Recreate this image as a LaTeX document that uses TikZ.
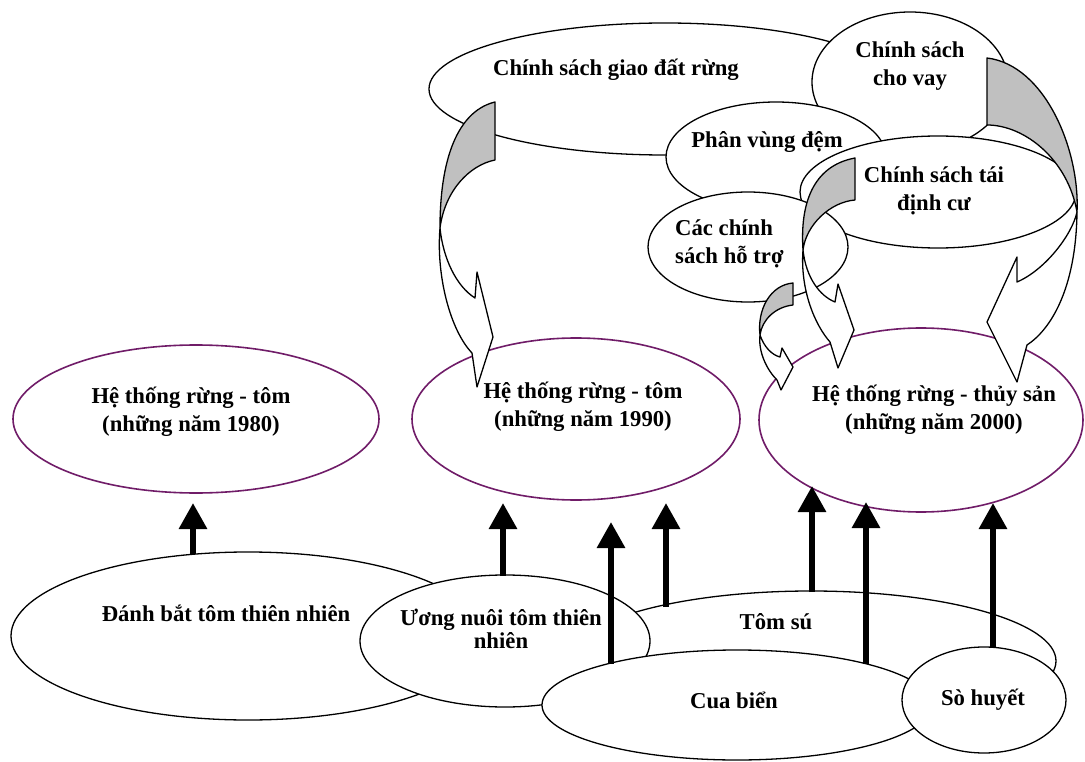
\documentclass[tikz,border=0pt]{standalone}
\usepackage{fontspec}
\setmainfont{Liberation Serif}
\usetikzlibrary{arrows.meta,shapes.geometric}
\definecolor{pur}{RGB}{112,28,104}
\definecolor{backgray}{RGB}{192,192,192}
\begin{document}
\begin{tikzpicture}[x=1pt,y=-1pt,
  blk/.style={ellipse, draw=black, line width=1.3pt, fill=white, inner sep=0pt, outer sep=0pt},
  pel/.style={ellipse, draw=pur, line width=1.6pt, fill=white, inner sep=0pt, outer sep=0pt},
  lbl/.style={font=\bfseries\fontsize{22.7}{28}\selectfont, align=center, inner sep=0pt},
  up/.style={line width=6pt, -{Triangle[width=27pt,length=26pt]}},
  back/.style={draw=black, line width=1.3pt, fill=backgray, line join=round},
  front/.style={draw=black, line width=1.3pt, fill=white, line join=round},
]
\useasboundingbox[fill=white] (0,0) rectangle (1085,762);

% policy ellipses
\node[blk, minimum width=472pt, minimum height=132pt] (giao) at (665,89) {};
\node[blk, minimum width=196pt, minimum height=140pt] (vay) at (910,82) {};
\node[blk, minimum width=220pt, minimum height=110pt] (dem) at (776,157) {};
\node[blk, minimum width=276pt, minimum height=112pt] (taidinh) at (938,192) {};
\node[blk, minimum width=200pt, minimum height=110pt] (hotro) at (748,247) {};

% system ellipses
\node[pel, minimum width=366pt, minimum height=148pt] (s1980) at (196,419) {};
\node[pel, minimum width=328pt, minimum height=162pt] (s1990) at (576,419) {};
\node[pel, minimum width=324pt, minimum height=184pt] (s2000) at (921,420) {};

% activity ellipses
\node[blk, minimum width=474pt, minimum height=168pt] (dbat) at (248,636) {};
\node[blk, minimum width=490pt, minimum height=140pt] (tomsu) at (811,661) {};
\node[blk, minimum width=290pt, minimum height=132pt] (uong) at (505,641) {};
\node[blk, minimum width=390pt, minimum height=110pt] (cua) at (737,705) {};
\node[blk, minimum width=164pt, minimum height=106pt] (so) at (984,700) {};

% straight arrows
\coordinate (a1s) at (193,554); \coordinate (a1e) at (193,503);
\coordinate (a2s) at (503,576); \coordinate (a2e) at (503,503);
\coordinate (a3s) at (611,664); \coordinate (a3e) at (611,522);
\coordinate (a4s) at (666,607); \coordinate (a4e) at (666,503);
\coordinate (a5s) at (812,592); \coordinate (a5e) at (812,486);
\coordinate (a6s) at (866,664); \coordinate (a6e) at (866,502);
\coordinate (a7s) at (993,648); \coordinate (a7e) at (993,503);
\foreach \i in {1,...,7} {\draw[up] (a\i s) -- (a\i e);}

% curved arrows (A: giao -> 1990)
\draw[back] (495,102) -- (495,160) .. controls (470,165) and (445,190) .. (440,228) .. controls (440,150) and (462,110) .. (495,102) -- cycle;
\draw[front] (440,228) .. controls (443,258) and (456,286) .. (475,298) -- (477,272) -- (493,337) -- (477,387) -- (472,353) .. controls (450,330) and (436,275) .. (440,228) -- cycle;
% B: vay -> 2000
\draw[back] (987,58) -- (987,125) .. controls (1025,125) and (1068,160) .. (1077,212) .. controls (1080,150) and (1045,65) .. (987,58) -- cycle;
\draw[front] (1077,212) .. controls (1072,235) and (1045,270) .. (1017,282) -- (1017,257) -- (987,322) -- (1017,382) -- (1027,345) .. controls (1050,330) and (1076,290) .. (1077,212) -- cycle;
% C: taidinh -> 2000
\draw[back] (855,158) -- (855,200) .. controls (830,202) and (806,225) .. (803,250) .. controls (800,205) and (812,166) .. (855,158) -- cycle;
\draw[front] (803,250) .. controls (806,278) and (820,296) .. (835,302) -- (838,284) -- (854,330) -- (838,368) -- (830,342) .. controls (815,325) and (800,290) .. (803,250) -- cycle;
% D: hotro -> 2000
\draw[back] (793,283) -- (793,305) .. controls (775,307) and (762,320) .. (760,335) .. controls (757,310) and (770,285) .. (793,283) -- cycle;
\draw[front] (760,335) .. controls (764,347) and (772,355) .. (780,357) -- (782,348) -- (793,367) -- (781,390) -- (777,380) .. controls (767,370) and (758,352) .. (760,335) -- cycle;

% labels
\node[lbl] (tgiao) at (616,70) {Chính sách giao đất rừng};
\node[lbl] (tvay) at (910,66) {Chính sách\\cho vay};
\node[lbl] (tdem) at (767,142) {Phân vùng đệm};
\node[lbl, align=left, anchor=west] (thotro) at (675,244) {Các chính\\sách hỗ trợ};
\node[lbl] (ttaidinh) at (934,191) {Chính sách tái\\định cư};
\node[lbl] (t1980) at (191,412) {Hệ thống rừng - tôm\\(những năm 1980)};
\node[lbl] (t1990) at (583,407) {Hệ thống rừng - tôm\\(những năm 1990)};
\node[lbl] (t2000) at (934,410) {Hệ thống rừng - thủy sản\\(những năm 2000)};
\node[lbl] (tdbat) at (226,613) {Đánh bắt tôm thiên nhiên};
\node[lbl, font=\bfseries\fontsize{22.7}{23}\selectfont] (tuong) at (501,629) {Ương nuôi tôm thiên\\nhiên};
\node[lbl] (ttomsu) at (776,622) {Tôm sú};
\node[lbl] (tcua) at (734,700) {Cua biển};
\node[lbl] (tso) at (983,700) {Sò huyết};
\end{tikzpicture}
\end{document}
